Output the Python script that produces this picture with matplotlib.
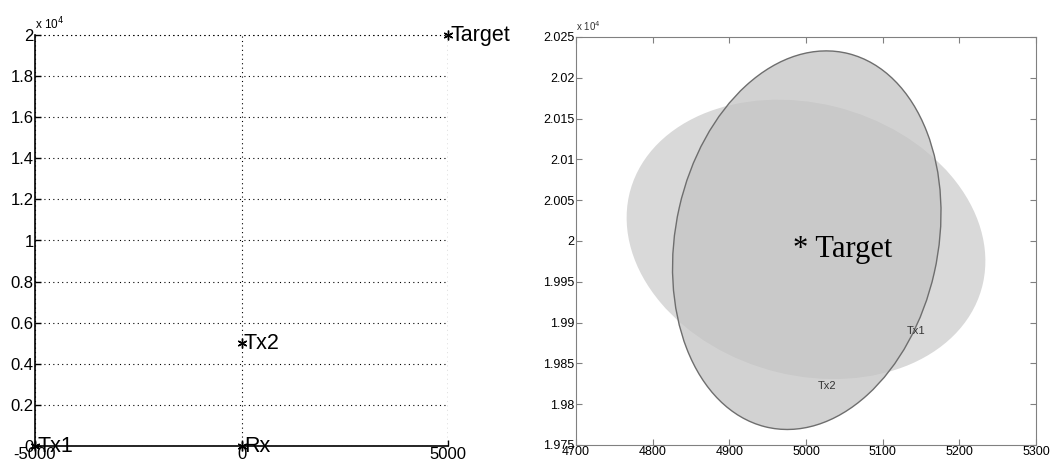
import matplotlib
matplotlib.use("Agg")
import matplotlib.pyplot as plt
from matplotlib.patches import Ellipse
import numpy as np

# left panel: node positions (m)
node_names = ["Tx1", "Rx", "Tx2", "Target"]
node_x = [-5000, 0, 0, 5000]
node_y = [0, 0, 5000, 20000]
y_ticklabels_l = ["0", "0.2", "0.4", "0.6", "0.8", "1", "1.2", "1.4", "1.6", "1.8", "2"]

# right panel: uncertainty ellipses around target
ell_names = ["Tx1", "Tx2"]
ell_cx = [5000, 5001]
ell_cy = [20002, 20001]
ell_w = [474, 470]      # full major axis
ell_h = [334, 342]      # full minor axis
ell_angle = [-13, 76.5]
ell_label_x = [5144, 5028]
ell_label_y = [19890, 19822]
target_label = (4983, 19990)

x_ticks_r = [4700, 4800, 4900, 5000, 5100, 5200, 5300]
y_ticks_r = [19750, 19800, 19850, 19900, 19950, 20000, 20050, 20100, 20150, 20200, 20250]
y_ticklabels_r = ["1.975", "1.98", "1.985", "1.99", "1.995", "2", "2.005", "2.01", "2.015", "2.02", "2.025"]

plt.rcParams["font.family"] = ["Liberation Sans", "DejaVu Sans"]

fig = plt.figure(figsize=(10.52, 4.69), dpi=100)
W, H = 1052, 469
asterisk = (6, 2, 0)

# ---- left panel ----
ax1 = fig.add_axes([35 / W, 1 - 446 / H, (448 - 35) / W, (446 - 35) / H])
ax1.set_xlim(-5000, 5000)
ax1.set_ylim(0, 20000)
ax1.set_xticks([-5000, 0, 5000])
ax1.set_xticklabels(["-5000", "0", "5000"])
ax1.set_yticks(np.linspace(0, 20000, len(y_ticklabels_l)))
ax1.set_yticklabels(y_ticklabels_l)
ax1.tick_params(direction="in", length=4, labelsize=12, pad=1, width=1)
ax1.spines["top"].set_visible(False)
ax1.spines["right"].set_visible(False)
for s in ["left", "bottom"]:
    ax1.spines[s].set_linewidth(1.2)
dots = (0, (1, 3))
ax1.grid(True, linestyle=dots, color="black", linewidth=0.8)
ax1.set_axisbelow(True)
ax1.axvline(5000, linestyle=dots, color="black", linewidth=0.8)
ax1.axhline(20000, linestyle=dots, color="black", linewidth=0.8, clip_on=False)
ax1.plot(node_x, node_y, linestyle="none", marker=asterisk, color="black",
         markersize=7, markeredgewidth=1.0, clip_on=False, zorder=5)
for n, x, y in zip(node_names, node_x, node_y):
    ax1.text(x + 60, y, n, fontsize=15.5, va="center", ha="left", clip_on=False)
ax1.text(-5000, 20150, r"x 10$^4$", fontsize=8.5, ha="left", va="bottom")

# ---- right panel ----
ax2 = fig.add_axes([576 / W, 1 - 445 / H, (1036 - 576) / W, (445 - 37) / H])
ax2.set_xlim(4700, 5300)
ax2.set_ylim(19750, 20250)
ax2.set_xticks(x_ticks_r)
ax2.set_yticks(y_ticks_r)
ax2.set_yticklabels(y_ticklabels_r)
ax2.tick_params(direction="in", length=4, labelsize=9, pad=1, color="#808080",
                top=True, right=True)
for s in ax2.spines.values():
    s.set_color("#808080")

e1 = Ellipse((ell_cx[0], ell_cy[0]), ell_w[0], ell_h[0], angle=ell_angle[0],
             facecolor="#d9d9d9", edgecolor="none", zorder=1)
ax2.add_patch(e1)
e2 = Ellipse((ell_cx[1], ell_cy[1]), ell_w[1], ell_h[1], angle=ell_angle[1],
             facecolor="#c4c4c4", alpha=0.75, edgecolor="none", zorder=2)
ax2.add_patch(e2)
e2b = Ellipse((ell_cx[1], ell_cy[1]), ell_w[1], ell_h[1], angle=ell_angle[1],
              facecolor="none", edgecolor="#6e6e6e", linewidth=1.0, zorder=3)
ax2.add_patch(e2b)

for n, x, y in zip(ell_names, ell_label_x, ell_label_y):
    ax2.text(x, y, n, fontsize=8, color="#333333", ha="center", va="center", zorder=4)
ax2.text(target_label[0], target_label[1], "* Target", fontsize=22, family="Liberation Serif",
         ha="left", va="center", zorder=4)
ax2.text(4700, 20255, r"x 10$^4$", fontsize=7, ha="left", va="bottom", color="#333333")

fig.savefig("out.png", dpi=100)
